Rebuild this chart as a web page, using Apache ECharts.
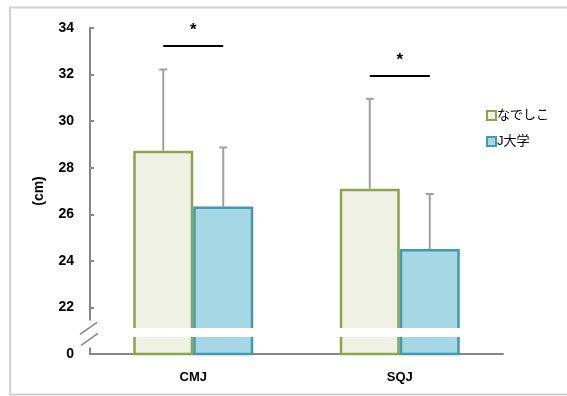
<!DOCTYPE html>
<html><head><meta charset="utf-8">
<script src="https://cdn.jsdelivr.net/npm/echarts@6/dist/echarts.min.js"></script>
<style>html,body{margin:0;padding:0;background:#fff}#c{width:567px;height:396px}</style>
</head><body><div id="c"></div>
<script>
const categories = ['CMJ', 'SQJ'];
const seriesNames = ['なでしこ', 'J大学'];
const nadeshiko = [28.73, 27.10];
const jUniv = [26.33, 24.51];
const nadeshikoErrTop = [32.22, 30.96];
const jUnivErrTop = [28.87, 26.87];
const sigLevel = [33.23, 31.94];
const sigMark = ['*', '*'];
const yMin = 20, yMax = 34, yStep = 2;
const breakLow = 20.73, breakHigh = 21.12;

const FONT = '"Liberation Sans", "Noto Sans CJK JP", sans-serif';
const chart = echarts.init(document.getElementById('c'));
const BW = 60;

function errSeries(vals, offSign) {
  return {
    type: 'custom', z: 1,
    data: vals.map((v, i) => [i, v]),
    renderItem: function (params, api) {
      const i = api.value(0);
      const top = api.coord([i, api.value(1)]);
      const base = api.coord([i, (offSign < 0 ? nadeshiko : jUniv)[i]]);
      const x = top[0] + offSign * BW / 2;
      return { type: 'group', children: [
        { type: 'line', shape: { x1: x, y1: base[1], x2: x, y2: top[1] }, style: { stroke: '#a0a0a0', lineWidth: 2 } },
        { type: 'line', shape: { x1: x - 4, y1: top[1], x2: x + 4, y2: top[1] }, style: { stroke: '#a0a0a0', lineWidth: 2 } }
      ]};
    }
  };
}

const option = {
  animation: false,
  backgroundColor: '#fff',
  grid: { left: 90, right: 64, top: 28, bottom: 42 },
  legend: {
    orient: 'vertical', left: 481, top: 104, itemGap: 13,
    itemWidth: 9, itemHeight: 9, icon: 'rect',
    textStyle: { fontFamily: FONT, fontSize: 13, color: '#000', padding: [0, 0, 0, -4] },
    data: seriesNames
  },
  xAxis: {
    type: 'category', data: categories,
    axisLine: { lineStyle: { color: '#868686', width: 2 } },
    axisTick: { length: 5, lineStyle: { color: '#868686', width: 2 } },
    axisLabel: { fontFamily: FONT, fontWeight: 'bold', fontSize: 13, color: '#000', margin: 17 }
  },
  yAxis: {
    type: 'value', min: yMin, max: yMax, interval: yStep,
    name: '(cm)', nameLocation: 'middle', nameGap: 44, nameRotate: 90,
    nameTextStyle: { fontFamily: FONT, fontWeight: 'bold', fontSize: 14, color: '#000' },
    splitLine: { show: false },
    axisLine: { show: true, lineStyle: { color: '#868686', width: 2 } },
    axisTick: { show: true, inside: true, length: 4, lineStyle: { color: '#868686', width: 2 } },
    axisLabel: { fontFamily: FONT, fontWeight: 'bold', fontSize: 14, color: '#000', margin: 16,
      formatter: v => (v === yMin ? '0' : String(v)) }
  },
  series: [
    { name: seriesNames[0], type: 'bar', data: nadeshiko, barWidth: BW, barGap: '0%', z: 2,
      itemStyle: { color: '#eef1e3', borderColor: '#8ba54a', borderWidth: 2.5 } },
    { name: seriesNames[1], type: 'bar', data: jUniv, barWidth: BW, barGap: '0%', z: 2,
      itemStyle: { color: '#a6d7e4', borderColor: '#3f9bb0', borderWidth: 2.5 } },
    errSeries(nadeshikoErrTop, -1),
    errSeries(jUnivErrTop, 1),
    {
      type: 'custom', z: 5, silent: true,
      data: sigLevel.map((v, i) => [i, v]),
      renderItem: function (params, api) {
        const i = api.value(0);
        const p = api.coord([i, api.value(1)]);
        return { type: 'group', children: [
          { type: 'line', shape: { x1: p[0] - BW / 2, y1: p[1], x2: p[0] + BW / 2, y2: p[1] }, style: { stroke: '#000', lineWidth: 2 } },
          { type: 'text', x: p[0], y: p[1] - 7, style: { text: sigMark[i], fill: '#000', font: 'bold 17px ' + FONT, align: 'center', verticalAlign: 'bottom' } }
        ]};
      }
    },
    {
      type: 'custom', z: 10, silent: true, clip: false,
      data: [[breakLow, breakHigh]],
      renderItem: function (params, api) {
        const lo = api.coord([0, api.value(0)]);
        const hi = api.coord([0, api.value(1)]);
        const cs = params.coordSys;
        const y1 = hi[1], y2 = lo[1];
        const ax = cs.x;
        const mid = (y1 + y2) / 2;
        return { type: 'group', children: [
          { type: 'rect', shape: { x: cs.x + 2, y: y1, width: cs.width - 2, height: y2 - y1 }, style: { fill: '#fff' } },
          { type: 'rect', shape: { x: ax - 3, y: mid - 12, width: 6, height: 27 }, style: { fill: '#fff' } },
          { type: 'line', shape: { x1: ax - 10, y1: mid + 2, x2: ax + 7, y2: mid - 10 }, style: { stroke: '#868686', lineWidth: 1.5 } },
          { type: 'line', shape: { x1: ax - 9, y1: mid + 13, x2: ax + 8, y2: mid + 1 }, style: { stroke: '#868686', lineWidth: 1.5 } }
        ]};
      }
    }
  ],
  graphic: [
    { type: 'rect', z: -1, shape: { x: 10, y: 7.5, width: 600, height: 387 }, style: { fill: 'none', stroke: '#d0d0d0', lineWidth: 2 } }
  ]
};
chart.setOption(option);
</script></body></html>
